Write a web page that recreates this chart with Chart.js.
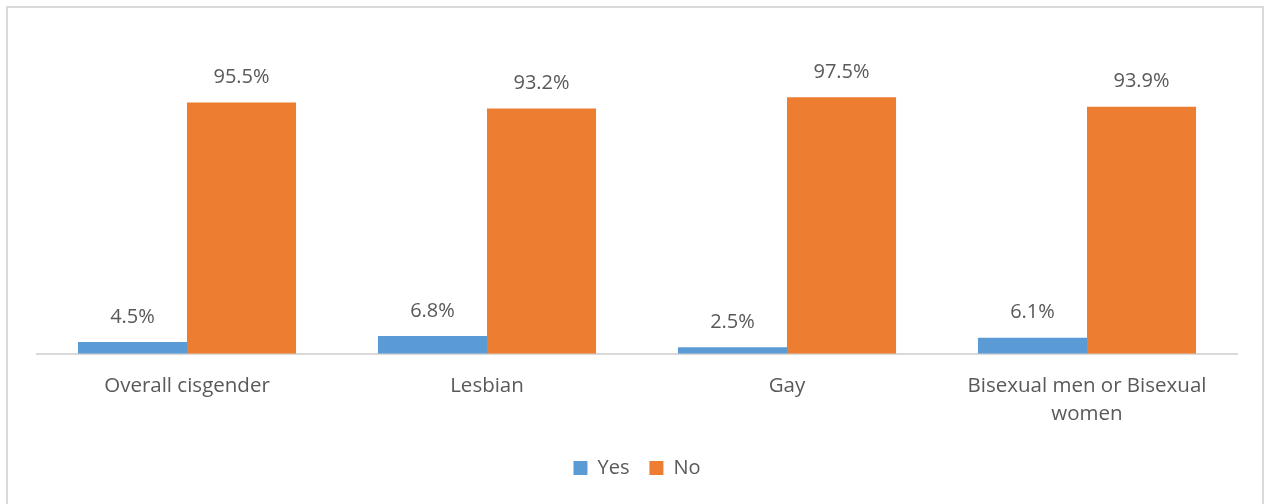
<!DOCTYPE html>
<html>
<head>
<meta charset="utf-8">
<script src="https://cdn.jsdelivr.net/npm/chart.js@4.4.0/dist/chart.umd.min.js"></script>
<style>
  html, body { margin: 0; padding: 0; background: #fff; }
  #wrap { width: 1266px; height: 504px; position: relative; }
</style>
</head>
<body>
<div id="wrap"><canvas id="chart" width="1266" height="504"></canvas></div>
<script>
// groups and answers
const categories = ["Overall cisgender", "Lesbian", "Gay", ["Bisexual men or Bisexual", "women"]];
const seriesNames = ["Yes", "No"];
const yesValues = [4.5, 6.8, 2.5, 6.1];
const noValues = [95.5, 93.2, 97.5, 93.9];

const TEXT = "#595959";
const FONT = "'Open Sans', 'DejaVu Sans', sans-serif";

// light grey frame round the chart (bottom edge runs off the canvas)
const frame = {
  id: "frame",
  beforeDraw(chart) {
    const c = chart.ctx;
    c.save();
    c.fillStyle = "#fff";
    c.fillRect(0, 0, chart.width, chart.height);
    c.strokeStyle = "#D9D9D9";
    c.lineWidth = 2;
    c.strokeRect(7, 7, chart.width - 10, chart.height + 10);
    c.restore();
  }
};

// value above every bar
const valueLabels = {
  id: "valueLabels",
  afterDatasetsDraw(chart) {
    const c = chart.ctx;
    c.save();
    c.font = "20px " + FONT;
    c.fillStyle = TEXT;
    c.textAlign = "center";
    c.textBaseline = "middle";
    chart.data.datasets.forEach((ds, i) => {
      chart.getDatasetMeta(i).data.forEach((bar, j) => {
        c.fillText(ds.data[j].toFixed(1) + "%", bar.x, bar.y - 25);
      });
    });
    c.restore();
  }
};

new Chart(document.getElementById("chart"), {
  type: "bar",
  data: {
    labels: categories,
    datasets: [
      { label: seriesNames[0], data: yesValues, backgroundColor: "#5B9BD5" },
      { label: seriesNames[1], data: noValues, backgroundColor: "#ED7D31" }
    ]
  },
  options: {
    responsive: false,
    animation: false,
    devicePixelRatio: 1,
    categoryPercentage: 0.727,
    barPercentage: 1.0,
    layout: { padding: { left: 37, right: 29, top: 38, bottom: 16 } },
    scales: {
      x: {
        grid: { display: false },
        border: { display: true, color: "#D9D9D9", width: 2 },
        ticks: {
          color: TEXT,
          padding: 10,
          maxRotation: 0,
          font: { family: FONT, size: 20.5, lineHeight: 1.37 }
        }
      },
      y: { display: false, min: 0, max: 120 }
    },
    plugins: {
      legend: {
        position: "bottom",
        labels: {
          color: TEXT,
          boxWidth: 14,
          boxHeight: 14,
          padding: 20,
          font: { family: FONT, size: 20 }
        }
      },
      tooltip: { enabled: false }
    }
  },
  plugins: [frame, valueLabels]
});
</script>
</body>
</html>
